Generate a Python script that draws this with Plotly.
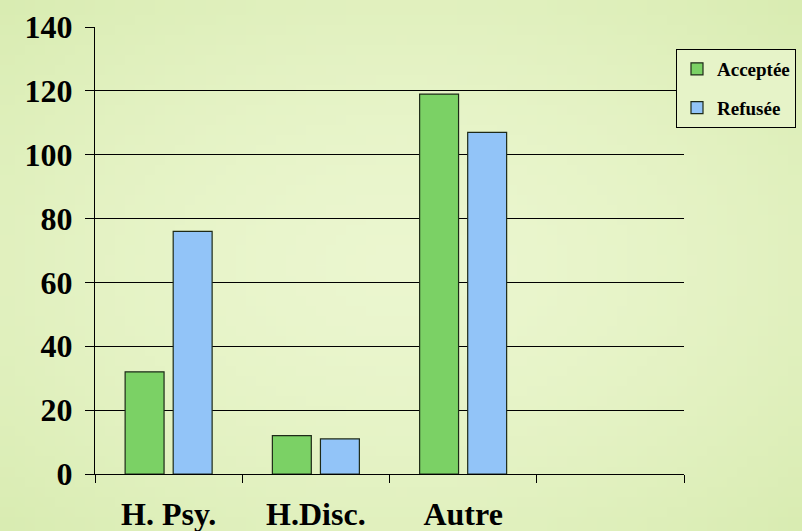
import base64
import struct
import zlib

import plotly.graph_objects as go

categories = ["H. Psy.", "H.Disc.", "Autre", " "]
acceptee = [32, 12, 119]
refusee = [76, 11, 107]
series_names = ["Acceptée", "Refusée"]
y_ticks = [0, 20, 40, 60, 80, 100, 120, 140]

font_family = "Liberation Serif, Times New Roman, serif"

W, H = 802, 531
ML, MR, MT, MB = 95, 118, 27, 57
PW, PH = W - ML - MR, H - MT - MB


def gradient_png(w, h, inner, outer):
    rows = []
    cx, cy = (w - 1) / 2, (h - 1) / 2
    for j in range(h):
        row = bytearray([0])
        for i in range(w):
            dx = (i - cx) / cx
            dy = (j - cy) / cy
            t = min(1.0, (dx * dx + dy * dy) / 2) ** 0.8
            for k in range(3):
                row.append(int(round(inner[k] + (outer[k] - inner[k]) * t)))
        rows.append(bytes(row))
    raw = b"".join(rows)

    def chunk(tag, data):
        c = tag + data
        return struct.pack(">I", len(data)) + c + struct.pack(">I", zlib.crc32(c) & 0xFFFFFFFF)

    png = b"\x89PNG\r\n\x1a\n"
    png += chunk(b"IHDR", struct.pack(">IIBBBBB", w, h, 8, 2, 0, 0, 0))
    png += chunk(b"IDAT", zlib.compress(raw, 9))
    png += chunk(b"IEND", b"")
    return "data:image/png;base64," + base64.b64encode(png).decode()


bg = gradient_png(80, 53, (0xEB, 0xF6, 0xCF), (0xD9, 0xEC, 0xB2))

fig = go.Figure()
fig.add_trace(go.Bar(
    x=categories[:3], y=acceptee, name=series_names[0],
    marker=dict(color="#7bd165", line=dict(color="#1e2a18", width=1.2)),
    legendgroup="a",
))
fig.add_trace(go.Bar(
    x=categories[:3], y=refusee, name=series_names[1],
    marker=dict(color="#92c4f8", line=dict(color="#1e2a18", width=1.2)),
    legendgroup="b",
))

fig.update_layout(
    width=W, height=H,
    margin=dict(l=ML, r=MR, t=MT, b=MB, autoexpand=False),
    paper_bgcolor="#e4f1c3",
    plot_bgcolor="rgba(0,0,0,0)",
    barmode="group",
    bargap=0.347,
    bargroupgap=0.19,
    font=dict(family=font_family, color="black"),
    legend=dict(
        x=(676 - ML) / PW, xanchor="left",
        y=(H - MB - 49) / PH, yanchor="top",
        bgcolor="#e6f3c8", bordercolor="black", borderwidth=1,
        font=dict(size=19, family=font_family, color="black", weight="bold"),
        tracegroupgap=11,
        traceorder="grouped",
    ),
    showlegend=True,
    images=[dict(
        source=bg, xref="paper", yref="paper",
        x=-ML / PW, y=1 + MT / PH, sizex=W / PW, sizey=H / PH,
        xanchor="left", yanchor="top", sizing="stretch", layer="below",
    )],
)

fig.update_xaxes(
    type="category",
    categoryorder="array", categoryarray=categories,
    range=[-0.5, 3.5],
    tickson="boundaries",
    ticks="outside", ticklen=8, tickcolor="black", tickwidth=1,
    showline=True, linecolor="black", linewidth=1,
    showgrid=False,
    automargin=False,
    tickfont=dict(size=32, family=font_family, color="black", weight="bold"),
    ticklabelstandoff=12,
)
fig.update_yaxes(
    range=[0, 140],
    tickvals=y_ticks,
    ticks="outside", ticklen=9, tickcolor="black", tickwidth=1,
    showline=True, linecolor="black", linewidth=1,
    showgrid=True, gridcolor="black", gridwidth=1,
    zeroline=False,
    automargin=False,
    tickfont=dict(size=32, family=font_family, color="black", weight="bold"),
    ticklabelstandoff=6,
)

fig.write_html(
    "out.html",
    config={"displayModeBar": False},
    post_script="document.body.style.margin='0';document.body.style.overflow='hidden';",
)
